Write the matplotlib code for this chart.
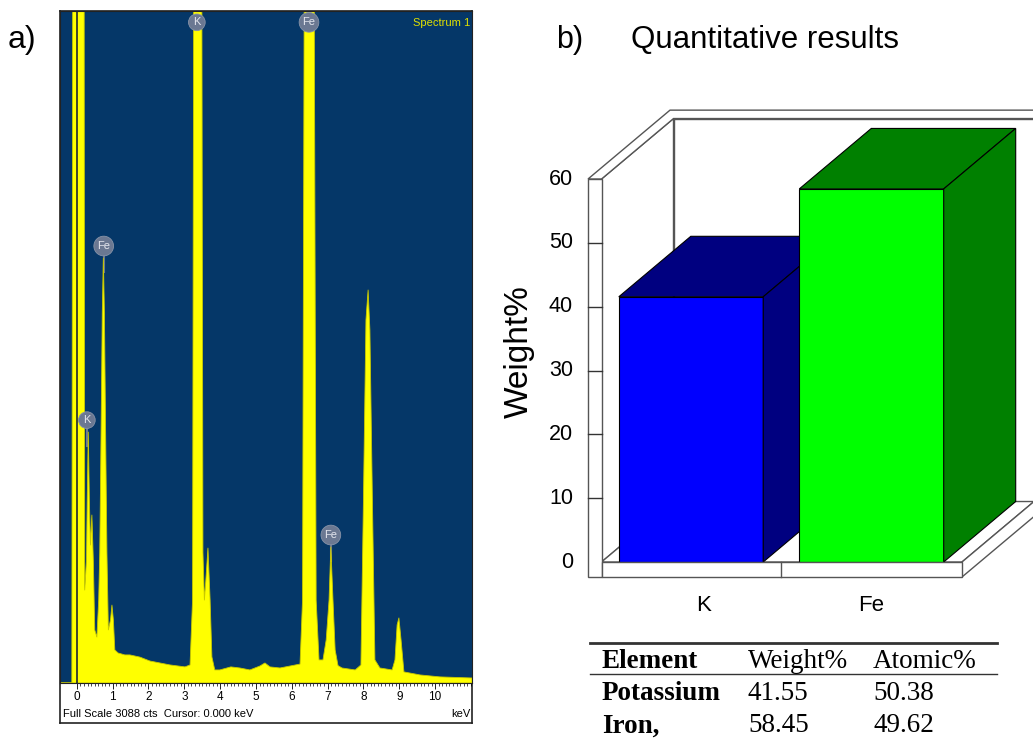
import matplotlib
matplotlib.use("Agg")
import matplotlib.pyplot as plt
from matplotlib.patches import Polygon
from matplotlib.lines import Line2D
import numpy as np

# EDS spectrum vertices (keV, counts); 4000 = off scale
energy = [-0.47, -0.14, -0.11, 0.20, 0.22, 0.27, 0.29, 0.32, 0.35, 0.38, 0.42, 0.46,
          0.50, 0.56, 0.61, 0.64, 0.67, 0.71, 0.74, 0.77, 0.81, 0.84, 0.88, 0.94,
          0.98, 1.02, 1.06, 1.15, 1.34, 1.48, 1.76, 2.04, 2.32, 2.60, 3.02, 3.16,
          3.23, 3.27, 3.30, 3.44, 3.48, 3.52, 3.56, 3.60, 3.66, 3.72, 3.77, 3.85,
          3.99, 4.30, 4.55, 4.83, 5.11, 5.25, 5.39, 5.67, 5.95, 6.23, 6.30, 6.36,
          6.38, 6.58, 6.61, 6.68, 6.76, 6.87, 6.96, 7.04, 7.09, 7.15, 7.21, 7.29,
          7.40, 7.77, 7.93, 8.00, 8.07, 8.13, 8.18, 8.25, 8.32, 8.46, 8.80, 8.88,
          8.94, 8.99, 9.05, 9.13, 9.58, 10.14, 11.03]
counts = [0, 0, 4000, 4000, 427, 565, 841, 1153, 841, 634, 772, 565,
          244, 211, 381, 600, 1050, 1700, 1953, 1700, 1050, 600, 244, 290,
          358, 290, 152, 138, 129, 129, 119, 101, 92, 83, 74, 83,
          381, 4000, 4000, 4000, 4000, 600, 381, 470, 620, 381, 120, 60,
          60, 74, 69, 60, 78, 92, 74, 69, 78, 87, 381, 4000,
          4000, 4000, 4000, 381, 106, 106, 198, 381, 625, 381, 152, 80,
          69, 60, 83, 841, 1668, 1806, 1622, 841, 106, 69, 60, 106,
          267, 299, 198, 51, 37, 28, 23]
full_scale = 3088
tick_kev = list(range(0, 11))

# peak markers (element, keV, counts)
peak_labels = ["K", "Fe", "K", "Fe", "Fe"]
peak_kev = [0.28, 0.75, 3.35, 6.48, 7.09]
peak_cts = [1208, 2008, 3036, 3036, 680]

# quantitative results
elements = ["K", "Fe"]
weight_pct = [41.55, 58.45]
table_names = ["Potassium", "Iron,"]
atomic_pct = [50.38, 49.62]
y_ticks = [0, 10, 20, 30, 40, 50, 60]

W, H = 1033, 738
fig = plt.figure(figsize=(W / 100, H / 100), dpi=100)
plt.rcParams['font.family'] = ['Liberation Sans', 'DejaVu Sans']


def fx(x):
    return x / W


def fy(y):
    return 1 - y / H


# ---------------- a) spectrum ----------------
frame = fig.add_axes([fx(60), fy(723), fx(412), (723 - 11) / H])
frame.set_xticks([])
frame.set_yticks([])
frame.set_facecolor("white")
for s in frame.spines.values():
    s.set_color("#222222")
    s.set_linewidth(1.2)

ax = fig.add_axes([fx(60), fy(683), fx(412), (683 - 11) / H])
ax.set_facecolor("#053768")
for lab, e, c in zip(peak_labels, peak_kev, peak_cts):
    ax.plot([e, e], [c, c - 120], color="#6b7892", lw=1.5, zorder=1)
ax.fill_between(energy, counts, 0, color="#ffff00", lw=0.6, edgecolor="#c8c800", zorder=2)
ax.axvline(0, color="#1c2633", lw=1.2, zorder=3)
ax.set_xlim(-0.47, 11.03)
ax.set_ylim(0, full_scale)
ax.set_yticks([])
ax.set_xticks(tick_kev)
ax.set_xticks(np.arange(0, 11.01, 0.1), minor=True)
ax.tick_params(axis="x", which="major", length=4, width=0.6, pad=2, labelsize=8.5)
ax.tick_params(axis="x", which="minor", length=2, width=0.5)
for s in ax.spines.values():
    s.set_color("#222222")

for lab, e, c in zip(peak_labels, peak_kev, peak_cts):
    ax.text(e, c, lab, ha="center", va="center", fontsize=8, color="#e4e6ee", zorder=4,
            bbox=dict(boxstyle="circle,pad=0.3", fc="#6b7892", ec="#8793a8", lw=0.6))

ax.text(0.995, 0.99, "Spectrum 1", transform=ax.transAxes, ha="right", va="top",
        fontsize=8, color="#e0e000")
fig.text(fx(63), fy(714), "Full Scale %d cts  Cursor: 0.000 keV" % full_scale,
         fontsize=8, va="center", ha="left")
fig.text(fx(470), fy(714), "keV", fontsize=8, va="center", ha="right")

fig.text(fx(8), fy(40), "a)", fontsize=23, va="center", ha="left")

# ---------------- b) 3D bar chart ----------------
px_x = 180.5   # pixels per category unit
px_y = 6.383   # pixels per weight% unit
axb = fig.add_axes([fx(540), fy(590), fx(1033 - 540), (590 - 100) / H])
axb.set_xlim((540 - 691) / px_x, (1033 - 691) / px_x)
axb.set_ylim((562 - 590) / px_y, (562 - 100) / px_y)
axb.axis("off")


def off(p):
    return p / px_x, 0.84 * p / px_y


dxi, dyi = off(72)
dxo, dyo = off(82)
x0 = (588 - 691) / px_x
x1 = (601.5 - 691) / px_x
xr = (962 - 691) / px_x
yb = -15 / px_y
ytop = y_ticks[-1]
wall = dict(fc="white", ec="#555555", lw=1.0)


def poly(pts, z, **kw):
    axb.add_patch(Polygon(pts, closed=True, zorder=z, **kw))


# back wall inner face
poly([(x1 + dxi, dyi), (xr + 0.3 + dxi, dyi), (xr + 0.3 + dxi, ytop + dyi), (x1 + dxi, ytop + dyi)], 1, **wall)
# left wall inner side
poly([(x1, 0), (x1 + dxi, dyi), (x1 + dxi, ytop + dyi), (x1, ytop)], 1, **wall)
# floor top and right side
poly([(x1, 0), (xr, 0), (xr + dxi, dyi), (x1 + dxi, dyi)], 1, **wall)
poly([(xr, yb), (xr, 0), (xr + dxo, dyo), (xr + dxo, yb + dyo)], 1, **wall)
# top of walls
poly([(x0, ytop), (x0 + dxo, ytop + dyo), (xr + 0.6, ytop + dyo), (xr + 0.6, ytop + dyi),
      (x1 + dxi, ytop + dyi), (x1, ytop)], 2, **wall)

front_cols = ["#0000ff", "#00ff00"]
dark_cols = ["#000080", "#008000"]
bw = 0.8
for i, v in enumerate(weight_pct):
    l, r = i - bw / 2, i + bw / 2
    z = 3 + i
    poly([(l, 0), (r, 0), (r, v), (l, v)], z, fc=front_cols[i], ec="black", lw=0.8)
    poly([(l, v), (r, v), (r + dxi, v + dyi), (l + dxi, v + dyi)], z, fc=dark_cols[i], ec="black", lw=0.8)
    poly([(r, 0), (r + dxi, dyi), (r + dxi, v + dyi), (r, v)], z, fc=dark_cols[i], ec="black", lw=0.8)

# front of left wall and floor
poly([(x0, yb), (x1, yb), (x1, ytop), (x0, ytop)], 6, **wall)
poly([(x1, yb), (xr, yb), (xr, 0), (x1, 0)], 6, **wall)
axb.plot([0.5, 0.5], [yb, 0], color="#555555", lw=1.0, zorder=7)
for t in y_ticks[1:-1]:
    axb.plot([x0, x1], [t, t], color="#333333", lw=1.0, zorder=7)
for t in y_ticks:
    axb.text((573 - 691) / px_x, t, str(t), ha="right", va="center", fontsize=15.5)
for i, e in enumerate(elements):
    axb.text(i + 0.07 * (1 - i), -6.8, e, ha="center", va="center", fontsize=16)
axb.text((519 - 691) / px_x, 33, "Weight%", rotation=90, ha="center", va="center", fontsize=24)

fig.text(fx(556), fy(40), "b)", fontsize=22, va="center", ha="left")
fig.text(fx(631), fy(40), "Quantitative results", fontsize=22.5, va="center", ha="left")

# ---------------- table ----------------
fig.add_artist(Line2D([fx(590), fx(997)], [fy(643), fy(643)], color="#333333", lw=2, transform=fig.transFigure))
fig.add_artist(Line2D([fx(590), fx(997)], [fy(674), fy(674)], color="#333333", lw=1, transform=fig.transFigure))
serif = ['Liberation Serif', 'DejaVu Serif']
cols = [602, 748, 873]
rows = [661, 694, 726]
fs = 19.5
fig.text(fx(cols[0]), fy(rows[0]), "Element", fontsize=fs, fontweight="bold", family=serif, va="center")
fig.text(fx(cols[1]), fy(rows[0]), "Weight%", fontsize=fs, family=serif, va="center")
fig.text(fx(cols[2]), fy(rows[0]), "Atomic%", fontsize=fs, family=serif, va="center")
for name, w, a, y in zip(table_names, weight_pct, atomic_pct, rows[1:]):
    fig.text(fx(cols[0]), fy(y), name, fontsize=fs, fontweight="bold", family=serif, va="center")
    fig.text(fx(cols[1]), fy(y), "%.2f" % w, fontsize=fs, family=serif, va="center")
    fig.text(fx(cols[2]), fy(y), "%.2f" % a, fontsize=fs, family=serif, va="center")

fig.savefig("out.png", dpi=100)
